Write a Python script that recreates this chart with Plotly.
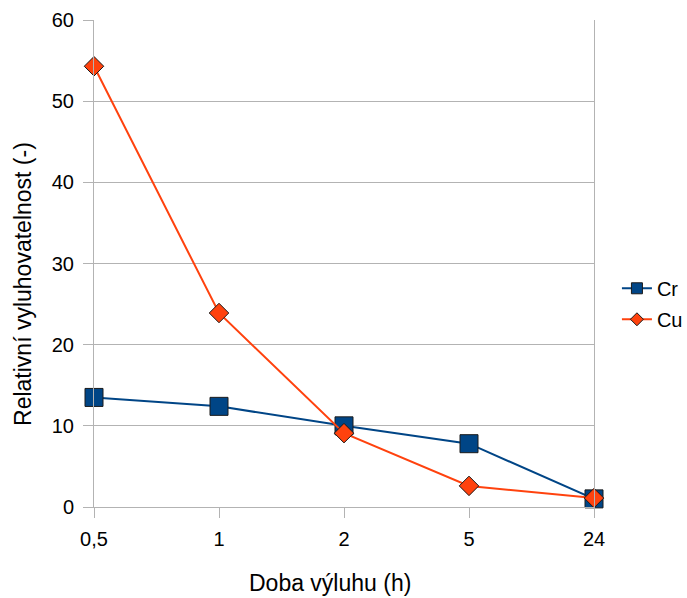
import plotly.graph_objects as go

# Leaching time categories (h) and relative leachability values
categories = ["0,5", "1", "2", "5", "24"]
cr_values = [13.5, 12.4, 10.0, 7.8, 1.0]
cu_values = [54.3, 23.9, 9.1, 2.6, 1.1]
y_ticks = [0, 10, 20, 30, 40, 50, 60]

grid = "#b3b3b3"
font = "Liberation Sans, Arial, sans-serif"
cr_color = "#004586"
cu_color = "#ff420e"
edge = "#1a1a1a"

fig = go.Figure()
fig.add_trace(go.Scatter(
    x=categories, y=cr_values, name="Cr", mode="lines+markers",
    line=dict(color=cr_color, width=2),
    marker=dict(symbol="square", size=18, color=cr_color,
                line=dict(color=edge, width=1)),
    cliponaxis=False, showlegend=False,
))
fig.add_trace(go.Scatter(
    x=categories, y=cu_values, name="Cu", mode="lines+markers",
    line=dict(color=cu_color, width=2),
    marker=dict(symbol="diamond", size=15, color=cu_color,
                line=dict(color=edge, width=1)),
    cliponaxis=False, showlegend=False,
))

# Legend entries with smaller key symbols
fig.add_trace(go.Scatter(
    x=[None], y=[None], name="Cr", mode="lines+markers", legendgroup="cr",
    line=dict(color=cr_color, width=2),
    marker=dict(symbol="square", size=11, color=cr_color,
                line=dict(color=edge, width=1)),
))
fig.add_trace(go.Scatter(
    x=[None], y=[None], name="Cu", mode="lines+markers", legendgroup="cu",
    line=dict(color=cu_color, width=2),
    marker=dict(symbol="diamond", size=10, color=cu_color,
                line=dict(color=edge, width=1)),
))

fig.update_layout(
    width=687, height=598,
    margin=dict(l=94, r=93, t=20, b=91, autoexpand=False),
    paper_bgcolor="white", plot_bgcolor="white",
    font=dict(family=font, size=20, color="#000000"),
    showlegend=True,
    legend=dict(xref="container", yref="container", x=0.898, y=0.492,
                xanchor="left", yanchor="middle",
                font=dict(size=20), itemwidth=30, tracegroupgap=2,
                bgcolor="rgba(0,0,0,0)"),
    xaxis=dict(
        type="category", categoryorder="array", categoryarray=categories,
        range=[0, 4], showgrid=False, showline=True, linecolor=grid,
        linewidth=1, ticks="outside", ticklen=10, tickcolor=grid,
        tickfont=dict(size=20), ticklabelstandoff=4,
    ),
    yaxis=dict(
        range=[0, 60], tickvals=y_ticks, showgrid=True, gridcolor=grid,
        gridwidth=1, showline=True, mirror=True, linecolor=grid,
        linewidth=1, ticks="outside", ticklen=10, tickcolor=grid,
        zeroline=False, tickfont=dict(size=20), ticklabelstandoff=5,
    ),
    annotations=[
        dict(text="Doba výluhu (h)", xref="paper", yref="paper",
             x=0.471, y=-0.156, xanchor="center", yanchor="middle",
             showarrow=False, font=dict(size=23)),
        dict(text="Relativní vyluhovatelnost (-)", xref="paper", yref="paper",
             x=-0.142, y=0.458, xanchor="center", yanchor="middle",
             textangle=-90, showarrow=False, font=dict(size=23)),
    ],
)

fig.write_html("out.html")
